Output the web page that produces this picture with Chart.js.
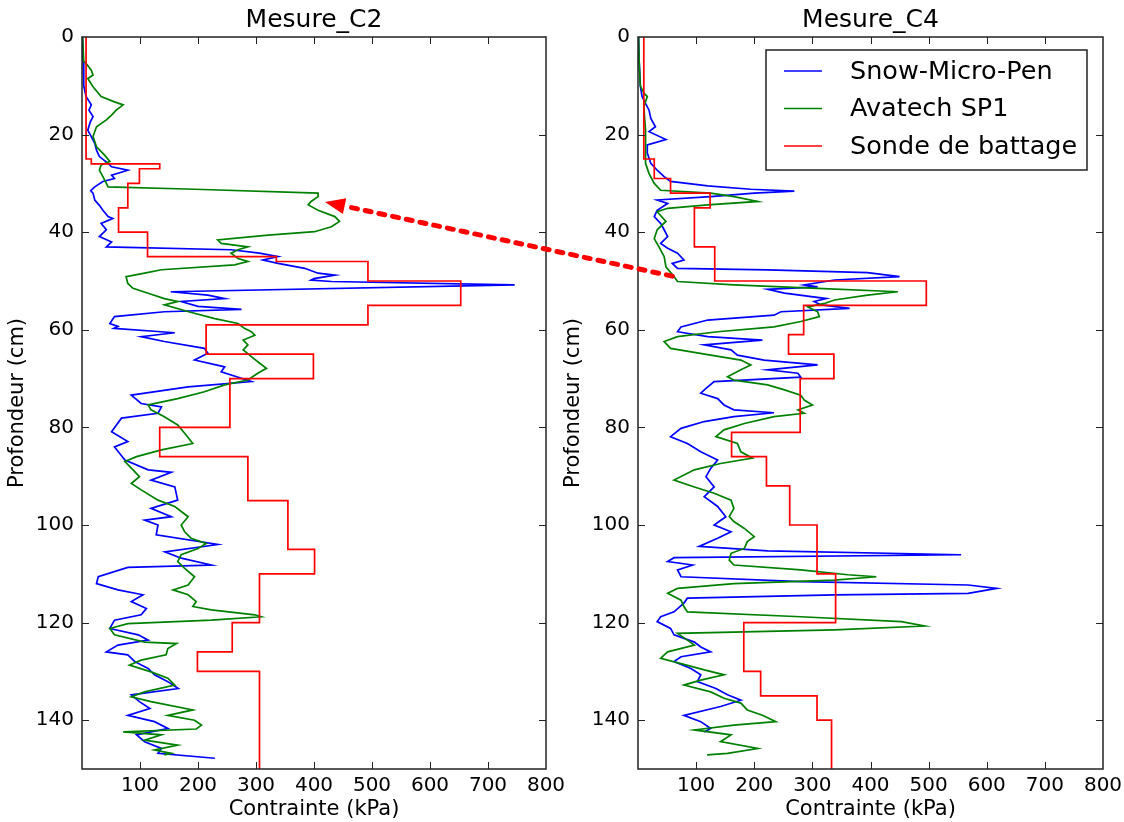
<!DOCTYPE html>
<html>
<head>
<meta charset="utf-8">
<script src="https://cdn.jsdelivr.net/npm/chart.js@4.4.1/dist/chart.umd.min.js"></script>
<style>
  body { margin: 0; background: #fff; }
  #wrap { position: relative; width: 1124px; height: 822px; }
  canvas { position: absolute; top: 0; }
  #c2 { left: 0; }
  #c4 { left: 556px; }
  #arrow { left: 0; pointer-events: none; }
</style>
</head>
<body>
<div id="wrap">
  <canvas id="c2" width="600" height="822"></canvas>
  <canvas id="c4" width="568" height="822"></canvas>
  <canvas id="arrow" width="1124" height="822"></canvas>
</div>
<script>
// ---- Mesure_C2 ----
const c2SmpDepth = [0, 5, 10, 12.2, 13.9, 15, 16.3, 17.5, 19.1, 20.4, 21.8, 23.2, 24.5, 25.9, 26.6, 27.3, 28.3, 29, 29.6, 30.7, 31.5, 32, 33.4, 34.5, 35.5, 36.8, 37.2, 38.2, 39.5, 40.9, 42, 43, 43.6, 44.3, 45, 45.7, 46.4, 47.4, 48.4, 48.8, 49.5, 49.8, 50.1, 50.8, 52.2, 52.9, 53.6, 54.2, 55.2, 55.8, 56.3, 57.3, 58.7, 59.3, 59.7, 60.6, 61.4, 62.4, 63.8, 64.8, 66.2, 67.6, 68.6, 70.6, 71.7, 73.4, 75.1, 75.8, 77.1, 78.1, 80.9, 82.9, 84, 86.7, 88.7, 89.2, 90.8, 92.2, 94.9, 96.6, 98.3, 99, 100, 102, 104, 105.5, 106.8, 108.2, 108.7, 110.6, 112, 113.3, 114.3, 115.7, 117.1, 118.4, 119.5, 121.2, 122.5, 123.6, 124.6, 126, 126.6, 128, 129.4, 130.7, 132.1, 133.5, 134.8, 136.2, 137.6, 139, 140.3, 141.7, 143, 144.4, 145.8, 146.8, 147.8];
const c2SmpKpa = [1, 2, 3, 7, 16, 12, 19, 14, 10, 16, 22, 25, 30, 45, 51, 79, 51, 56, 36, 22, 15, 19, 22, 30, 36, 45, 53, 33, 42, 30, 51, 42, 257, 306, 338, 312, 338, 384, 407, 436, 400, 395, 430, 746, 153, 217, 246, 171, 200, 275, 142, 56, 48, 62, 55, 160, 102, 142, 211, 217, 194, 246, 240, 292, 183, 85, 102, 137, 131, 68, 51, 79, 56, 74, 114, 154, 119, 160, 165, 119, 154, 108, 131, 128, 234, 143, 171, 223, 79, 28, 25, 62, 105, 85, 111, 102, 56, 48, 97, 114, 62, 42, 79, 91, 114, 125, 148, 166, 85, 99, 117, 79, 125, 148, 94, 108, 137, 131, 229];

const c2AvaDepth = [0, 5, 5.7, 6.8, 7.8, 8.5, 10.2, 12.2, 13.3, 13.9, 15, 16, 17, 18.4, 20.4, 22.5, 24.2, 25.5, 26.2, 27.3, 28.6, 30, 30.7, 31.2, 32, 32.7, 33.7, 34.4, 35.5, 36.8, 37.8, 38.9, 39.9, 40.6, 41.6, 42.3, 43, 43.6, 44.3, 45.4, 46, 46.7, 47.7, 48.4, 49.1, 50.5, 51.5, 52.5, 53.6, 54.2, 54.9, 56.3, 57.7, 58.7, 59.7, 60.4, 61.1, 62.1, 63.1, 64.1, 65.5, 66.9, 67.9, 68.9, 70.3, 71.3, 72.7, 74.1, 75.4, 76.4, 77.8, 79.5, 81.2, 83.3, 84.6, 86, 87, 88.7, 90.1, 91.5, 92.8, 94.9, 96.2, 98.3, 100, 101.4, 102.7, 103.8, 104.8, 106.1, 107.5, 108.9, 110.6, 112.3, 113.3, 114.3, 115.7, 116.7, 117.4, 118.4, 118.8, 119.5, 120.2, 121.2, 122.5, 124, 124.3, 125.3, 126.6, 127.7, 128.7, 130.1, 131.4, 132.8, 134.2, 135.2, 136.2, 137.9, 139, 140, 141, 141.8, 142.4, 143, 144.1, 145.1, 146.1, 146.8, 147.1];
const c2AvaKpa = [1, 3, 9, 16, 19, 10, 19, 33, 56, 71, 59, 51, 42, 25, 19, 25, 39, 48, 33, 30, 36, 42, 45, 194, 407, 407, 395, 390, 407, 436, 444, 430, 401, 321, 234, 240, 286, 269, 257, 269, 286, 263, 137, 108, 76, 79, 88, 114, 142, 165, 142, 184, 229, 269, 280, 292, 298, 278, 286, 278, 292, 307, 318, 303, 286, 246, 211, 165, 114, 119, 142, 165, 177, 191, 137, 94, 74, 88, 99, 85, 102, 131, 160, 183, 171, 177, 188, 214, 200, 171, 165, 177, 194, 183, 157, 183, 197, 191, 223, 298, 309, 223, 79, 48, 56, 108, 163, 148, 145, 102, 82, 119, 148, 160, 108, 85, 119, 191, 148, 194, 206, 197, 71, 137, 108, 165, 125, 154, 142];

const c2SondeDepth = [0, 25, 26, 27, 30, 35, 40, 45, 46, 50, 55, 59, 65, 70, 80, 86, 95, 105, 110, 120, 126, 130, 150];
const c2SondeKpa = [7, 16, 134, 99, 79, 63, 113, 335, 493, 653, 493, 214, 399, 255, 134, 286, 355, 401, 306, 259, 199, 306, 306];

// ---- Mesure_C4 ----
const c4SmpDepth = [0, 5, 10, 12.2, 15, 16.7, 18.4, 19.4, 21, 22.1, 23.8, 25.9, 27.3, 28.6, 29.6, 30.5, 31.2, 31.6, 32, 32.7, 33.4, 34.1, 35.5, 36.8, 38.2, 39.5, 40.9, 42.3, 43.3, 44.3, 45.7, 46.4, 47.4, 47.7, 48.3, 49.1, 49.8, 50.8, 51.2, 51.7, 52.5, 53.6, 54.2, 54.9, 55.6, 56.3, 57, 58, 59.4, 60.4, 61.4, 62.1, 63.1, 64.1, 65.2, 66.2, 67.2, 68.2, 68.9, 69.7, 70.6, 72, 73, 74.1, 75.4, 76.4, 77, 77.8, 78.8, 80.2, 81.9, 83.3, 85, 86.7, 88.4, 90.1, 92.2, 94.2, 96.2, 98.3, 100, 101.4, 102.7, 104.4, 105.3, 106.1, 106.7, 107.5, 108.2, 109.2, 110.6, 111.6, 112.3, 113, 114, 114.3, 115, 116, 117.8, 118.8, 119.8, 121.2, 122.5, 124, 125, 126, 127, 128, 129.4, 130.7, 132.1, 133.5, 134.8, 135.9, 137.2, 139, 140.3, 141.7, 142.4];
const c4SmpKpa = [1, 2, 4, 7, 19, 22, 30, 19, 48, 16, 16, 22, 33, 45, 56, 120, 194, 269, 200, 125, 33, 51, 33, 28, 39, 45, 51, 39, 51, 68, 79, 59, 68, 223, 395, 450, 338, 286, 309, 223, 252, 324, 303, 315, 364, 246, 234, 120, 74, 68, 120, 214, 114, 160, 171, 217, 309, 223, 275, 280, 131, 117, 108, 137, 148, 165, 234, 165, 114, 74, 56, 85, 108, 137, 125, 117, 131, 114, 137, 151, 131, 160, 137, 105, 223, 556, 62, 51, 94, 68, 74, 280, 568, 617, 568, 338, 85, 79, 62, 39, 33, 56, 62, 97, 108, 125, 74, 62, 91, 108, 102, 134, 154, 177, 142, 79, 108, 125, 114];

const c4AvaDepth = [0, 5, 10, 11.5, 12.2, 14.3, 19.1, 23.2, 25.9, 28, 30, 31.4, 32, 32.7, 33.7, 34.4, 35.1, 35.8, 37.8, 39.5, 41.3, 43, 45, 47.1, 49.1, 50.1, 50.8, 51.5, 52.2, 52.9, 53.9, 54.6, 55.3, 56.3, 57.3, 58.3, 59.4, 60.4, 61.4, 62.4, 63.8, 65.2, 66.2, 67.2, 68.2, 69.6, 70.3, 71.3, 72.3, 73.4, 74.4, 75.4, 76.4, 77.1, 77.8, 79.2, 80.5, 81.9, 83.3, 85, 86.3, 87.4, 88.7, 90.8, 92.2, 93.5, 94.9, 96.6, 98.3, 99.3, 100.7, 102.4, 103.4, 104.8, 105.8, 107.2, 108.2, 109.2, 110.2, 110.6, 111.3, 112, 113, 114, 115.4, 116.7, 117.8, 118.8, 119.8, 120.7, 121.5, 122.2, 123.6, 124.6, 126, 127.3, 128.4, 129.7, 130.7, 131.8, 132.8, 134.2, 135.5, 136.5, 137.9, 139, 140.3, 141, 142, 143, 144.4, 145.8, 146.8, 147.1];
const c4AvaKpa = [1, 2, 4, 10, 16, 10, 13, 13, 13, 19, 28, 39, 125, 165, 206, 120, 51, 33, 48, 33, 28, 36, 45, 48, 62, 68, 165, 309, 447, 395, 338, 321, 292, 309, 312, 280, 234, 137, 68, 45, 56, 125, 177, 194, 177, 154, 165, 223, 252, 280, 286, 300, 275, 286, 234, 183, 148, 134, 171, 177, 197, 142, 97, 62, 97, 131, 160, 165, 157, 165, 183, 200, 188, 183, 160, 157, 165, 280, 361, 410, 338, 165, 68, 51, 74, 79, 85, 280, 453, 493, 338, 68, 85, 97, 51, 39, 74, 114, 148, 108, 79, 125, 148, 177, 188, 214, 237, 165, 97, 160, 142, 206, 154, 119];

const c4SondeDepth = [0, 25, 29, 32, 35, 43, 50, 55, 61, 65, 70, 81, 86, 92, 100, 110, 120, 130, 135, 140, 150];
const c4SondeKpa = [10, 28, 56, 124, 97, 132, 496, 285, 259, 337, 279, 161, 221, 261, 308, 340, 182, 211, 308, 333, 333];

const seriesNames = ['Snow-Micro-Pen', 'Avatech SP1', 'Sonde de battage'];
const seriesColors = ['#0000ff', '#008000', '#ff0000'];

Chart.defaults.font.family = "'DejaVu Sans', sans-serif";
Chart.defaults.color = '#000';

function pts(depths, vals) {
  return depths.map((d, i) => ({ x: vals[i], y: d }));
}

// box, inward ticks, title and optional legend
const framePlugin = {
  id: 'frame',
  afterDraw(chart, args, opts) {
    const ctx = chart.ctx;
    const a = chart.chartArea;
    const xs = chart.scales.x, ys = chart.scales.y;
    ctx.save();
    ctx.strokeStyle = '#222';
    ctx.lineWidth = 1;
    ctx.beginPath();
    xs.ticks.forEach(t => {
      const px = Math.round(xs.getPixelForValue(t.value)) + 0.5;
      if (px <= a.left + 1 || px >= a.right - 1) return;
      ctx.moveTo(px, a.top); ctx.lineTo(px, a.top + 7);
      ctx.moveTo(px, a.bottom); ctx.lineTo(px, a.bottom - 7);
    });
    ys.ticks.forEach(t => {
      const py = Math.round(ys.getPixelForValue(t.value)) + 0.5;
      if (py <= a.top + 1 || py >= a.bottom - 1) return;
      ctx.moveTo(a.left, py); ctx.lineTo(a.left + 7, py);
      ctx.moveTo(a.right, py); ctx.lineTo(a.right - 7, py);
    });
    ctx.stroke();
    ctx.lineWidth = 1.5;
    ctx.strokeRect(a.left, a.top, a.right - a.left, a.bottom - a.top);

    ctx.fillStyle = '#000';
    ctx.font = "25px 'DejaVu Sans'";
    ctx.textAlign = 'center';
    ctx.textBaseline = 'middle';
    ctx.fillText(opts.title, (a.left + a.right) / 2, 20);

    if (opts.legend) {
      const w = 321, h = 120;
      const bx = a.right - 16 - w, by = a.top + 13;
      ctx.fillStyle = '#fff';
      ctx.fillRect(bx, by, w, h);
      ctx.strokeStyle = '#222';
      ctx.lineWidth = 1.5;
      ctx.strokeRect(bx, by, w, h);
      ctx.font = "25.5px 'DejaVu Sans'";
      ctx.textAlign = 'left';
      seriesNames.forEach((name, i) => {
        const ry = by + 21 + i * 37.5;
        ctx.strokeStyle = seriesColors[i];
        ctx.lineWidth = 1.5;
        ctx.beginPath();
        ctx.moveTo(bx + 18, ry); ctx.lineTo(bx + 56, ry);
        ctx.stroke();
        ctx.fillStyle = '#000';
        ctx.fillText(name, bx + 84, ry + 1);
      });
    }
    ctx.restore();
  }
};

function makeChart(id, title, smp, ava, sonde, legend, padRight) {
  return new Chart(document.getElementById(id), {
    type: 'scatter',
    data: {
      datasets: [
        { label: seriesNames[0], data: smp, borderColor: seriesColors[0], order: 3 },
        { label: seriesNames[1], data: ava, borderColor: seriesColors[1], order: 2 },
        { label: seriesNames[2], data: sonde, borderColor: seriesColors[2], order: 1, stepped: 'after' }
      ]
    },
    options: {
      responsive: false,
      animation: false,
      showLine: true,
      elements: {
        point: { radius: 0 },
        line: { borderWidth: 1.7, tension: 0, fill: false }
      },
      layout: { padding: { top: 37, left: 0, right: padRight, bottom: 0 } },
      plugins: {
        legend: { display: false },
        tooltip: { enabled: false },
        frame: { title: title, legend: legend }
      },
      scales: {
        x: {
          type: 'linear',
          min: 0, max: 800,
          grid: { display: false, drawTicks: false },
          border: { display: false },
          ticks: {
            stepSize: 100, padding: 5,
            font: { size: 20 },
            callback: v => (v === 0 ? '' : v)
          },
          title: { display: true, text: 'Contrainte (kPa)', font: { size: 21 }, padding: { top: 0, bottom: 0 } },
          afterFit: s => { s.height = 53; s.paddingLeft = 0; s.paddingRight = 0; }
        },
        y: {
          type: 'linear',
          reverse: true,
          min: 0, max: 150,
          grid: { display: false, drawTicks: false },
          border: { display: false },
          ticks: { stepSize: 20, padding: 8, font: { size: 20 } },
          afterBuildTicks: s => { s.ticks = s.ticks.filter(t => t.value % 20 === 0); },
          title: { display: true, text: 'Profondeur (cm)', font: { size: 21 }, padding: { top: 5, bottom: 0 } },
          afterFit: s => { s.width = 82; s.paddingTop = 0; s.paddingBottom = 0; }
        }
      }
    },
    plugins: [framePlugin]
  });
}

const chartC2 = makeChart('c2', 'Mesure_C2', pts(c2SmpDepth, c2SmpKpa), pts(c2AvaDepth, c2AvaKpa), pts(c2SondeDepth, c2SondeKpa), false, 54);
const chartC4 = makeChart('c4', 'Mesure_C4', pts(c4SmpDepth, c4SmpKpa), pts(c4AvaDepth, c4AvaKpa), pts(c4SondeDepth, c4SondeKpa), true, 21);

// dashed arrow from the C4 weak layer to the C2 Avatech peak
function drawArrow() {
  const ctx = document.getElementById('arrow').getContext('2d');
  const sx = 556 + chartC4.scales.x.getPixelForValue(59);
  const sy = chartC4.scales.y.getPixelForValue(49);
  const ex = chartC2.scales.x.getPixelForValue(419);
  const ey = chartC2.scales.y.getPixelForValue(33.8);
  const ang = Math.atan2(ey - sy, ex - sx);
  const headLen = 20, headW = 8;
  const bx = ex - headLen * Math.cos(ang), by = ey - headLen * Math.sin(ang);
  ctx.strokeStyle = '#ff0000';
  ctx.fillStyle = '#ff0000';
  ctx.lineWidth = 5;
  ctx.lineCap = 'round';
  ctx.setLineDash([6, 8]);
  ctx.beginPath();
  ctx.moveTo(sx, sy);
  ctx.lineTo(bx, by);
  ctx.stroke();
  ctx.setLineDash([]);
  ctx.beginPath();
  ctx.moveTo(ex, ey);
  ctx.lineTo(bx + headW * Math.sin(ang), by - headW * Math.cos(ang));
  ctx.lineTo(bx - headW * Math.sin(ang), by + headW * Math.cos(ang));
  ctx.closePath();
  ctx.fill();
}
drawArrow();
</script>
</body>
</html>
